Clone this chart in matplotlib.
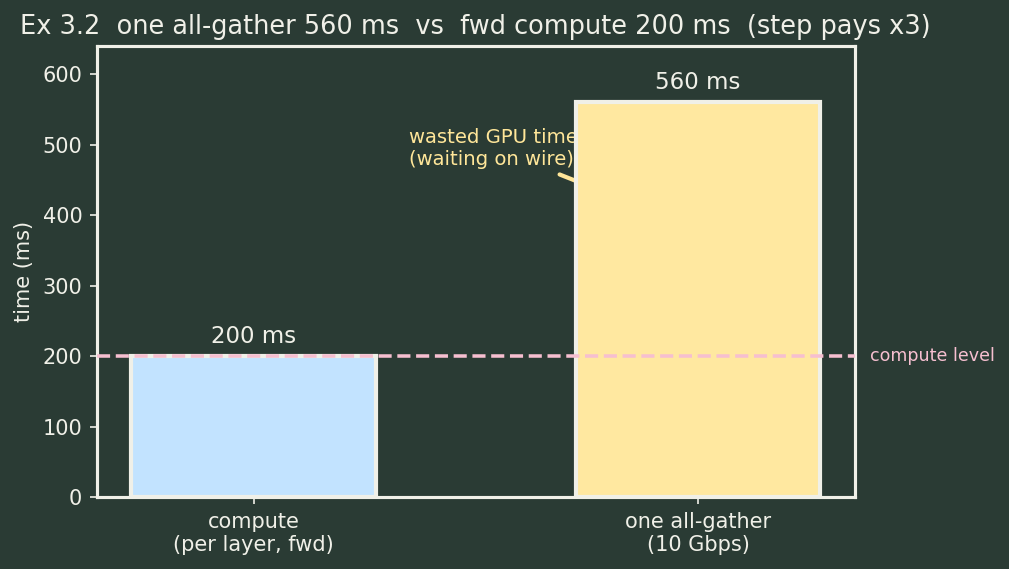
import matplotlib
matplotlib.use("Agg")
import matplotlib.pyplot as plt

categories = ["compute\n(per layer, fwd)", "one all-gather\n(10 Gbps)"]
values = [200, 560]
bar_labels = ["200 ms", "560 ms"]
compute_level = 200
yticks = [0, 100, 200, 300, 400, 500, 600]

BG = "#2a3b34"
FG = "#f0f0e8"
BAR_COLORS = ["#c2e3ff", "#ffe8a0"]
PINK = "#f6bfd0"
YEL = "#ffe699"

fig = plt.figure(figsize=(1009/150, 569/150), dpi=150, facecolor=BG)
ax = fig.add_axes([0.096, 0.1265, 0.751, 0.7925])
ax.set_facecolor(BG)

x = list(range(len(categories)))
bars = ax.bar(x, values, width=0.55, color=BAR_COLORS, edgecolor=FG, linewidth=2, zorder=3)
ax.axhline(compute_level, color=PINK, linestyle="--", linewidth=1.7, zorder=4)
ax.text(1.02, compute_level, "compute level", color=PINK, fontsize=8.4,
        va="center", ha="left", transform=ax.get_yaxis_transform())

for xi, v, lab in zip(x, values, bar_labels):
    ax.text(xi, v + 12, lab, ha="center", va="bottom", color=FG, fontsize=11)

ax.annotate("wasted GPU time\n(waiting on wire)", xy=(1.0, 380), xytext=(0.35, 495),
            color=YEL, fontsize=9.4, ha="left", va="center", zorder=2,
            arrowprops=dict(arrowstyle="->", color=YEL, lw=2))

ax.set_ylim(0, 640)
ax.set_yticks(yticks)
ax.set_xticks(x)
ax.set_xticklabels(categories)
ax.set_ylabel("time (ms)", color=FG, fontsize=10)
ax.set_title("Ex 3.2  one all-gather 560 ms  vs  fwd compute 200 ms  (step pays x3)",
             color=FG, fontsize=12.3)
ax.tick_params(colors=FG, labelsize=10)
for s in ax.spines.values():
    s.set_color(FG)
    s.set_linewidth(1.5)

fig.savefig("out.png", dpi=150, facecolor=BG)
